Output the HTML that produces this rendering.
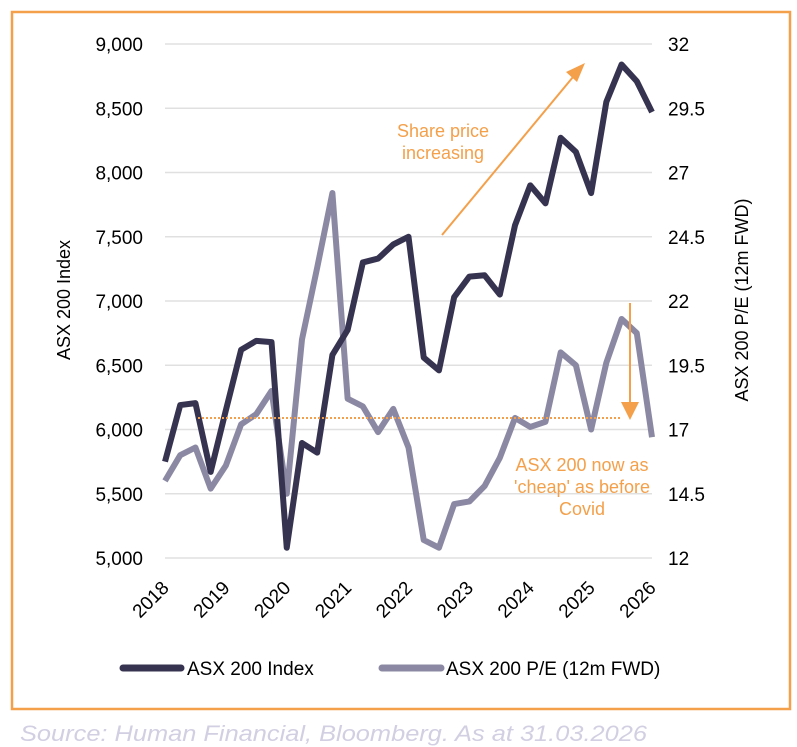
<!DOCTYPE html>
<html><head><meta charset="utf-8"><style>
html,body{margin:0;padding:0;background:#fff;}
svg{display:block;font-family:"Liberation Sans",sans-serif;}
</style></head><body>
<svg id="chart" width="797" height="747" viewBox="0 0 797 747" xmlns="http://www.w3.org/2000/svg">
<rect x="12" y="12" width="778" height="697" fill="none" stroke="#f4a04a" stroke-width="2.5"/>
<g id="grid"></g><g id="axes"></g><g id="series"></g>
<line x1="198" y1="418" x2="622" y2="418" stroke="#f4a04a" stroke-width="2" stroke-dasharray="2,2"/>
<g>
<line x1="442" y1="235" x2="573" y2="77" stroke="#f4a04a" stroke-width="2"/>
<polygon points="585,63 566,72 577,82" fill="#f4a04a"/>
</g>
<g>
<line x1="630" y1="303" x2="630" y2="402" stroke="#f4a04a" stroke-width="2"/>
<polygon points="621,402 639,402 630,420" fill="#f4a04a"/>
</g>
<text x="443" y="137" font-size="18" fill="#f4a04a" text-anchor="middle">Share price</text>
<text x="443" y="159" font-size="18" fill="#f4a04a" text-anchor="middle">increasing</text>
<text x="582" y="471" font-size="18" fill="#f4a04a" text-anchor="middle">ASX 200 now as</text>
<text x="582" y="493" font-size="18" fill="#f4a04a" text-anchor="middle">'cheap' as before</text>
<text x="582" y="515" font-size="18" fill="#f4a04a" text-anchor="middle">Covid</text>
<text transform="translate(70,300) rotate(-90)" font-size="18" text-anchor="middle" fill="#000">ASX 200 Index</text>
<text transform="translate(748,300) rotate(-90)" font-size="18" text-anchor="middle" fill="#000">ASX 200 P/E (12m FWD)</text>
<g>
<line x1="123" y1="668" x2="181" y2="668" stroke="#363350" stroke-width="7" stroke-linecap="round"/>
<text x="187" y="675" font-size="19">ASX 200 Index</text>
<line x1="382" y1="668" x2="441" y2="668" stroke="#8b88a3" stroke-width="7" stroke-linecap="round"/>
<text x="446" y="675" font-size="19">ASX 200 P/E (12m FWD)</text>
</g>
<text x="20" y="741" font-size="22" font-style="italic" fill="#d2cfe2" textLength="627" lengthAdjust="spacingAndGlyphs">Source: Human Financial, Bloomberg. As at 31.03.2026</text>
</svg>
<script>
const indexValues=[5750,6190,6205,5670,6150,6620,6690,6680,5080,5895,5820,6580,6775,7300,7330,7440,7500,6560,6460,7030,7190,7200,7050,7590,7900,7760,8270,8160,7840,8550,8840,8710,8470];
const peValues=[15.0,16.0,16.3,14.7,15.6,17.2,17.6,18.5,14.5,20.5,23.3,26.2,18.2,17.9,16.9,17.8,16.3,12.7,12.4,14.1,14.2,14.8,15.9,17.45,17.1,17.3,20.0,19.5,17.0,19.6,21.3,20.75,16.7];
const leftTicks=[5000,5500,6000,6500,7000,7500,8000,8500,9000];
const leftTickLabels=["5,000","5,500","6,000","6,500","7,000","7,500","8,000","8,500","9,000"];
const rightTicks=[12,14.5,17,19.5,22,24.5,27,29.5,32];
const rightTickLabels=["12","14.5","17","19.5","22","24.5","27","29.5","32"];
const years=["2018","2019","2020","2021","2022","2023","2024","2025","2026"];

const NS="http://www.w3.org/2000/svg";
const X0=165,X1=652,YT=44,YB=558;
const xq=i=>X0+(X1-X0)*i/(indexValues.length-1);
const xy=k=>X0+(X1-X0)*k/(years.length-1);
const yl=v=>YB-(v-5000)/(9000-5000)*(YB-YT);
const yr=v=>YB-(v-12)/(32-12)*(YB-YT);
function mk(t,a,p){const e=document.createElementNS(NS,t);for(const k in a)e.setAttribute(k,a[k]);p.appendChild(e);return e;}
const grid=document.getElementById('grid'),axes=document.getElementById('axes'),ser=document.getElementById('series');
leftTicks.forEach((v,i)=>{
 const g=mk('line',{x1:X0,x2:X1,y1:yl(v),y2:yl(v),stroke:'#e0e0e0','stroke-width':1.5},grid);
 
 
 const t=mk('text',{x:143,y:yl(v)+7,'font-size':19,'text-anchor':'end'},axes);
 t.textContent=leftTickLabels[i];
 
 
});
rightTicks.forEach((v,i)=>{
 const t=mk('text',{x:668,y:yr(v)+7,'font-size':19},axes);
 t.textContent=rightTickLabels[i];
 
 
});
years.forEach((y,k)=>{
 const x=xy(k);
 const t=mk('text',{transform:`translate(${x+5},${589}) rotate(-45)`,'font-size':19,'text-anchor':'end'},axes);
 t.textContent=y;
 
 
});
const pe=mk('polyline',{points:peValues.map((v,i)=>xq(i)+','+yr(v)).join(' '),fill:'none',stroke:'#8b88a3','stroke-width':6,'stroke-linejoin':'round'},ser);


const ix=mk('polyline',{points:indexValues.map((v,i)=>xq(i)+','+yl(v)).join(' '),fill:'none',stroke:'#363350','stroke-width':6,'stroke-linejoin':'round'},ser);


</script>
</body></html>
